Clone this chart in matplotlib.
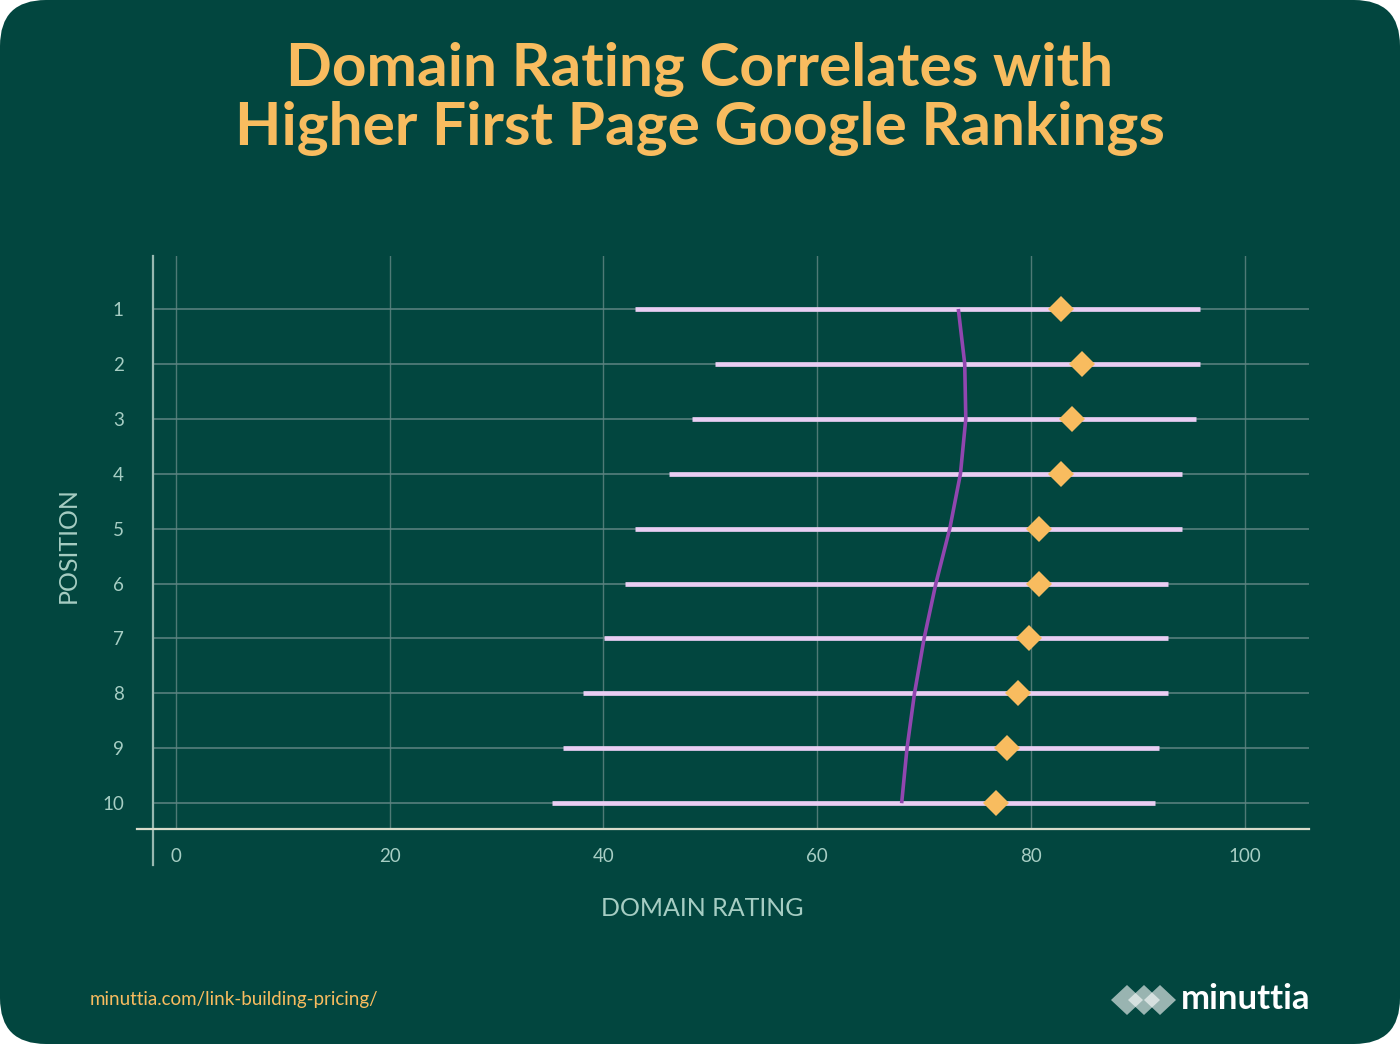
import matplotlib.pyplot as plt
from matplotlib.patches import FancyBboxPatch, Polygon

# values
positions = [1, 2, 3, 4, 5, 6, 7, 8, 9, 10]
dr_low = [43.0, 50.4, 48.3, 46.1, 43.0, 42.0, 40.1, 38.1, 36.2, 35.2]
dr_high = [95.8, 95.8, 95.4, 94.1, 94.1, 92.8, 92.8, 92.8, 92.0, 91.6]
dr_avg = [82.8, 84.8, 83.8, 82.8, 80.7, 80.7, 79.8, 78.8, 77.8, 76.7]
dr_trend = [73.2, 73.8, 73.9, 73.4, 72.4, 71.1, 70.0, 69.1, 68.4, 67.9]
x_ticks = [0, 20, 40, 60, 80, 100]

BG = '#02463f'
ORANGE = '#f8bc5f'
LABEL = '#a6cdc3'

plt.rcParams['font.family'] = ['Lato', 'DejaVu Sans']

fig = plt.figure(figsize=(14, 10.44), dpi=100)
fig.patch.set_facecolor('white')
bg = FancyBboxPatch((0, 0), 14, 10.44, boxstyle='round,pad=0,rounding_size=0.46',
                    transform=fig.dpi_scale_trans, facecolor=BG, edgecolor='none', zorder=-10)
fig.patches.append(bg)

ax = fig.add_axes([0.1093, 0.2059, 0.8257, 0.5489])
ax.set_facecolor('none')

ax.hlines(positions, dr_low, dr_high, color='#e9cef3', lw=3.4, zorder=3)
ax.plot(dr_trend, positions, color='#9146b0', lw=2.6, zorder=4, solid_capstyle='butt')
ax.plot(dr_avg, positions, 'D', color=ORANGE, markersize=13.5, markeredgewidth=0, zorder=5)

ax.set_xlim(-2.12, 106.0)
ax.set_ylim(10.47, 0.035)
ax.set_xticks(x_ticks)
ax.set_yticks(positions)
ax.set_yticklabels([str(p) for p in positions])

ax.grid(axis='y', color='#5e8482', lw=1.1, zorder=1)
ax.grid(axis='x', color='#4f7a76', lw=1.0, zorder=1)
ax.tick_params(length=0, labelsize=13.5, labelcolor=LABEL)
ax.tick_params(axis='x', pad=14)
ax.tick_params(axis='y', pad=21)

for s in ax.spines.values():
    s.set_visible(False)
# crossed axis lines
ax.plot([0, 0], [-0.063, 1], transform=ax.transAxes, color='#97b8b0', lw=1.6, clip_on=False)
ax.plot([-0.014, 1], [0, 0], transform=ax.transAxes, color='#d9dccb', lw=1.6, clip_on=False)

ax.set_xlabel('DOMAIN RATING', fontsize=18, color=LABEL, va='center')
ax.xaxis.set_label_coords(0.475, -0.138)
ax.set_ylabel('POSITION', fontsize=18, color=LABEL, va='center')
ax.yaxis.set_label_coords(-0.0735, 0.496)

fig.text(0.5, 0.905, 'Domain Rating Correlates with\nHigher First Page Google Rankings',
         ha='center', va='center', fontsize=43.5, fontweight='bold', color=ORANGE,
         linespacing=1.1)

fig.text(90 / 1400, 1 - 999 / 1044, 'minuttia.com/link-building-pricing/', ha='left',
         va='center', fontsize=13.5, color=ORANGE)

# logo
for cx in [1127, 1144, 1160]:
    pts = [(cx - 16, 1000), (cx, 985), (cx + 16, 1000), (cx, 1015)]
    fig.patches.append(Polygon([(x / 1400, 1 - y / 1044) for x, y in pts], closed=True,
                               transform=fig.transFigure, facecolor='white', alpha=0.6,
                               edgecolor='none'))
fig.text(1181 / 1400, 1 - 999 / 1044, 'minuttia', ha='left', va='center',
         fontsize=25, fontweight='bold', color='white')

fig.savefig('out.png', dpi=100, facecolor=fig.get_facecolor())
